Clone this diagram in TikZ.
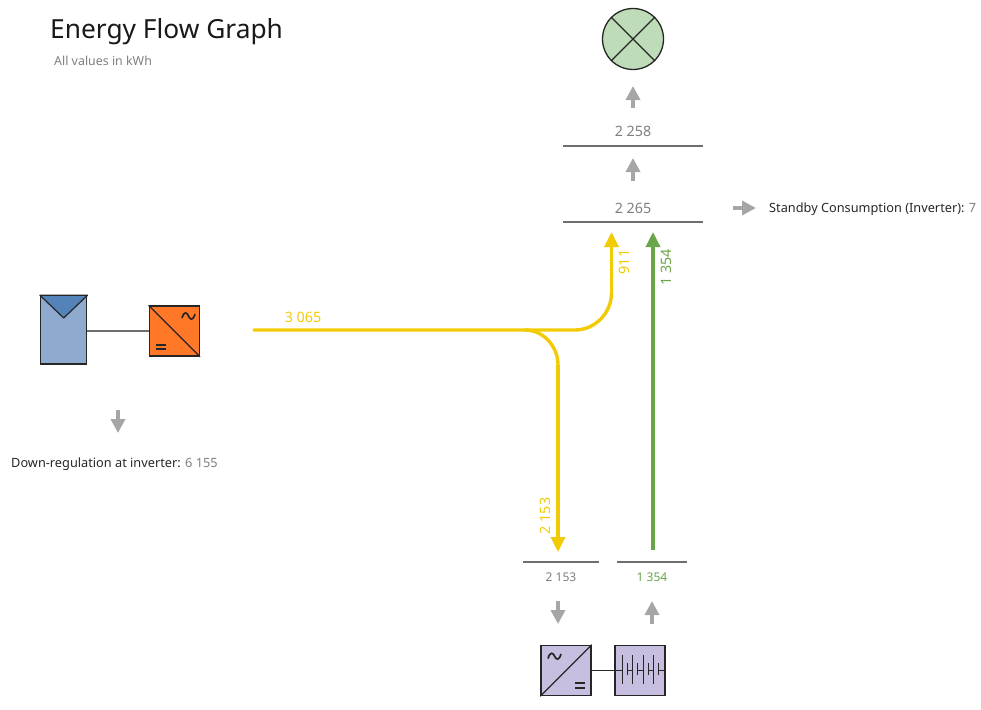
\documentclass[tikz,border=0pt]{standalone}
\usepackage{fontspec}
\setmainfont{Noto Sans}
\usetikzlibrary{arrows.meta}
\definecolor{flowyellow}{HTML}{F2CB05}
\definecolor{flowgreen}{HTML}{6AA548}
\definecolor{flowgray}{HTML}{A6A6A6}
\definecolor{valgray}{HTML}{7F7F7F}
\definecolor{barline}{HTML}{6E6E6E}
\definecolor{lampfill}{HTML}{BEDCB8}
\definecolor{pvfill}{HTML}{8FAACF}
\definecolor{pvtop}{HTML}{5483BA}
\definecolor{invfill}{HTML}{FF7828}
\definecolor{batfill}{HTML}{C8BEE0}
\tikzset{
  x=1pt,y=-1pt,
  grayarrow/.style={draw=flowgray,line width=3.4pt,-{Triangle[width=14pt,length=14pt]}},
  yellowflow/.style={draw=flowyellow,line width=3.4pt,line cap=round},
  yellowtip/.style={yellowflow,line cap=butt,-{Triangle[width=14pt,length=15pt]}},
  greenflow/.style={draw=flowgreen,line width=3.4pt,-{Triangle[width=14pt,length=15pt]}},
  rule/.style={fill=barline,inner sep=0pt,minimum height=2pt,draw=none},
  icon/.style={draw=black!85,line width=1.5pt,inner sep=0pt,minimum size=50pt},
  val/.style={text=valgray,font=\fontsize{14.3}{16}\selectfont,inner sep=0pt},
  small/.style={font=\fontsize{12}{14}\selectfont,inner sep=0pt},
  lab/.style={font=\fontsize{12.75}{15}\selectfont,text=black!85,inner sep=0pt},
  glyphline/.style={draw=black!85,line width=1.2pt},
  glyphthick/.style={draw=black!85,line width=1.7pt},
}
\begin{document}
\begin{tikzpicture}
\useasboundingbox (0,0) rectangle (981,709);
% title
\node[anchor=base west,inner sep=0pt,font=\fontsize{26.3}{30}\selectfont,text=black!90] (title) at (50,38) {Energy Flow Graph};
\node[anchor=west,inner sep=0pt,font=\fontsize{12.4}{14}\selectfont,text=valgray] (subtitle) at (54,60.5) {All values in kWh};
% load
\node[circle,draw=black!85,line width=1.3pt,fill=lampfill,minimum size=61pt,inner sep=0pt] (lamp) at (633,39) {};
\draw[glyphline] (lamp.north west) -- (lamp.south east);
\draw[glyphline] (lamp.north east) -- (lamp.south west);
% upper balance
\node[rule,minimum width=140pt] (barA) at (633,145.5) {};
\node[rule,minimum width=140pt] (barB) at (633,222) {};
\node[val] (valA) at (633,131.5) {2 258};
\node[val] (valB) at (633,208) {2 265};
\coordinate (a1s) at (633,108); \coordinate (a1e) at (633,86);
\coordinate (a2s) at (633,181); \coordinate (a2e) at (633,158);
\draw[grayarrow] (a1s) -- (a1e);
\draw[grayarrow] (a2s) -- (a2e);
% standby
\coordinate (a3s) at (733,208); \coordinate (a3e) at (756,208);
\draw[grayarrow] (a3s) -- (a3e);
\node[lab,anchor=west] (standby) at (769,209) {Standby Consumption (Inverter): \textcolor{valgray}{7}};
% PV
\node[draw=black!85,line width=1.5pt,fill=pvfill,minimum width=46pt,minimum height=68pt,inner sep=0pt] (pv) at (63.7,330) {};
\coordinate (pvtip) at (63.7,318);
\draw[draw=black!85,line width=1.2pt,fill=pvtop,line join=round] (pv.north west) -- (pv.north east) -- (pvtip) -- cycle;
\node[icon,fill=invfill] (pvinv) at (174.3,331) {};
\draw[glyphline] (pvinv.north west) -- (pvinv.south east);
\draw[draw=barline,line width=1.6pt] (pv.east |- pvinv.west) -- (pvinv.west);
\draw[glyphthick] (182,318) .. controls (184,311) and (187,312) .. (188.5,316) .. controls (190,320) and (193,321) .. (195,314);
\draw[glyphthick] (156,345) -- (166,345) (156,349) -- (166,349);
% down regulation
\coordinate (a4s) at (118,410); \coordinate (a4e) at (118,433);
\draw[grayarrow] (a4s) -- (a4e);
\node[lab,anchor=west] (downreg) at (11,464) {Down-regulation at inverter: \textcolor{valgray}{6 155}};
% yellow flows
\coordinate (fstart) at (254,330);
\coordinate (fjunc) at (525,330);
\coordinate (fbend) at (575,330);
\coordinate (fup) at (611.5,293);
\coordinate (fupend) at (611.5,232);
\coordinate (fdown) at (558,365);
\coordinate (fdownend) at (558,552);
\draw[yellowflow] (fstart) -- (fbend) .. controls (595,330) and (611.5,313) .. (fup);
\draw[yellowtip] (fup) -- (fupend);
\draw[yellowflow] (fjunc) .. controls (543,330) and (558,346) .. (fdown);
\draw[yellowtip] (fdown) -- (fdownend);
\node[val,text=flowyellow] (v3065) at (303,317) {3 065};
\node[val,text=flowyellow,rotate=90] (v911) at (624,262) {911};
\node[val,text=flowyellow,rotate=90] (v2153) at (545,516) {2 153};
% green flow
\coordinate (gstart) at (653,550);
\coordinate (gend) at (653,232);
\draw[greenflow] (gstart) -- (gend);
\node[val,text=flowgreen,rotate=90] (v1354) at (666,267.5) {1 354};
% lower balance
\node[rule,minimum width=76pt] (barC) at (561,562) {};
\node[rule,minimum width=70pt] (barD) at (652,562) {};
\node[small,text=valgray] (valC) at (561,577) {2 153};
\node[small,text=flowgreen] (valD) at (652,577) {1 354};
\coordinate (a5s) at (558,601); \coordinate (a5e) at (558,624);
\coordinate (a6s) at (652,624); \coordinate (a6e) at (652,601);
\draw[grayarrow] (a5s) -- (a5e);
\draw[grayarrow] (a6s) -- (a6e);
% battery inverter
\node[icon,fill=batfill] (acdc) at (566,670.5) {};
\draw[glyphline] (acdc.south west) -- (acdc.north east);
\draw[glyphthick] (548,658.5) .. controls (550,651.5) and (553,652.5) .. (554.5,656) .. controls (556,660) and (559,661) .. (561,654);
\draw[glyphthick] (575,683) -- (585,683) (575,688) -- (585,688);
% battery
\node[icon,fill=batfill] (bat) at (640,670.5) {};
\draw[glyphline] (acdc.east) -- (bat.west) -- (622.7,670.5);
\foreach \xa/\xb/\xc in {622.7/627.3/632.7,632.7/637.7/643.3,643.3/648.3/653.3}{
  \draw[glyphline] (\xa,655) -- (\xa,684);
  \draw[glyphline] (\xb,663) -- (\xb,675);
  \draw[glyphline] (\xb,670.5) -- (\xc,670.5);
}
\draw[glyphline] (653.3,655) -- (653.3,684);
\draw[glyphline] (658.3,663) -- (658.3,675);
\draw[glyphline] (658.3,670.5) -- (bat.east);
\end{tikzpicture}
\end{document}
